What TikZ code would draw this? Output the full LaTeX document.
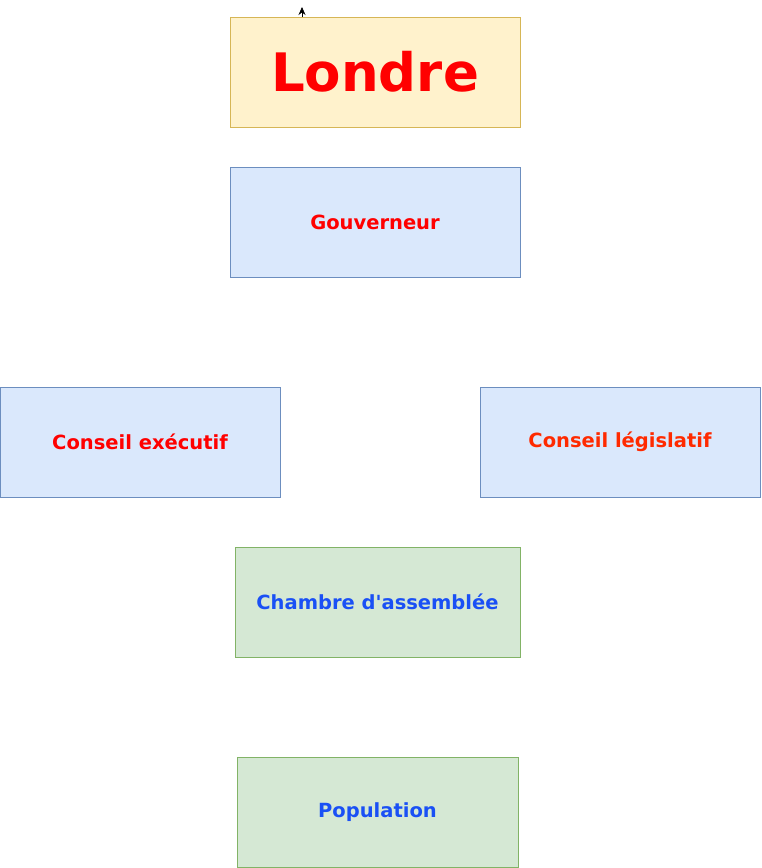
\documentclass[tikz,border=0pt]{standalone}
\usepackage{fontspec}
\setmainfont{DejaVu Sans}
\usepackage{xcolor}
\usetikzlibrary{arrows.meta,positioning}
\definecolor{yellowfill}{HTML}{FFF2CC}
\definecolor{yellowline}{HTML}{D6B656}
\definecolor{bluefill}{HTML}{DAE8FC}
\definecolor{blueline}{HTML}{6C8EBF}
\definecolor{greenfill}{HTML}{D5E8D4}
\definecolor{greenline}{HTML}{82B366}
\definecolor{redtext}{HTML}{FF0000}
\definecolor{orangetext}{HTML}{FF2A00}
\definecolor{bluetext}{HTML}{1A50F5}
\tikzstyle{box} = [rectangle, draw, line width=0.6pt, minimum height=110pt, font=\bfseries\fontsize{19.5}{22}\selectfont]
\tikzstyle{capital} = [box, fill=yellowfill, draw=yellowline, minimum width=290pt, text=redtext]
\tikzstyle{power} = [box, fill=bluefill, draw=blueline]
\tikzstyle{people} = [box, fill=greenfill, draw=greenline, text=bluetext]

\begin{document}
\begin{tikzpicture}[x=1pt,y=-1pt]
    \useasboundingbox (0,0) rectangle (761,868);
    \node[capital, font=\bfseries\fontsize{53}{58}\selectfont] (londre) at (375,72) {Londre};
    \coordinate (tip) at (302,7);
    \draw[-{Stealth[length=8pt,width=7pt]}, line width=0.7pt] (londre.north -| tip) -- (tip);
    \node[power, minimum width=290pt, text=redtext] (gouv) at (375,222) {Gouverneur};
    \node[power, minimum width=280pt, text=redtext] (exec) at (140,442) {Conseil exécutif};
    \node[power, minimum width=280pt, text=orangetext] (legis) at (620,442) {Conseil législatif};
    \node[people, minimum width=285pt] (chambre) at (377.5,602) {Chambre d\textquotesingle assemblée};
    \node[people, minimum width=281pt] (pop) at (377.5,812) {Population};
\end{tikzpicture}
\end{document}
